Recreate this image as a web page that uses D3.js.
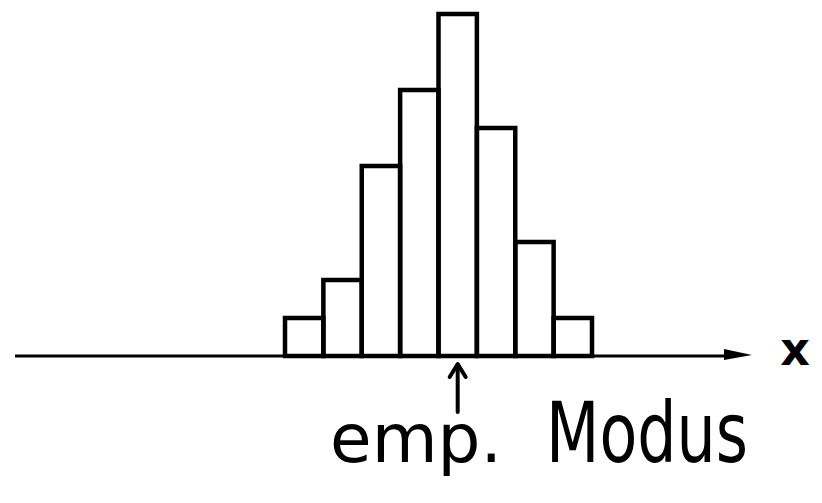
<!DOCTYPE html>
<html>
<head>
<meta charset="utf-8">
<script src="https://cdn.jsdelivr.net/npm/d3@7"></script>
<style>
  html, body { margin: 0; padding: 0; background: #fff; }
  svg { display: block; }
</style>
</head>
<body>
<script>
// Class frequencies of the histogram (8 equal-width classes)
const classes = [0, 1, 2, 3, 4, 5, 6, 7];
const counts  = [1, 2, 5, 7, 9, 6, 3, 1];
const axisLabel = "x";
const modeLabel = ["emp.", "Modus"];

const W = 822, H = 503;
const svg = d3.select("body").append("svg")
  .attr("width", W).attr("height", H);

// class index -> horizontal position (class boundaries at integers)
const x = d3.scaleLinear().domain([0, classes.length]).range([285, 592]);
// frequency -> vertical position
const y = d3.scaleLinear().domain([0, 9]).range([356, 14]);

const ink = "#000";

// x axis with arrow head
const axisLeft = 15, axisRight = 752;
svg.append("line")
  .attr("x1", axisLeft).attr("x2", axisRight - 20)
  .attr("y1", y(0)).attr("y2", y(0))
  .attr("stroke", ink).attr("stroke-width", 3);
svg.append("path")
  .attr("d", `M${axisRight},${y(0) - 1} L${axisRight - 28},${y(0) - 7} L${axisRight - 28},${y(0) + 4} Z`)
  .attr("fill", ink);
svg.append("text")
  .attr("x", 795).attr("y", 365)
  .attr("text-anchor", "middle")
  .attr("font-family", "DejaVu Sans, sans-serif")
  .attr("font-size", 46)
  .attr("font-weight", "bold")
  .attr("fill", ink)
  .text(axisLabel);

// histogram bars
svg.append("g")
  .selectAll("rect")
  .data(classes)
  .join("rect")
  .attr("x", d => x(d))
  .attr("y", d => y(counts[d]))
  .attr("width", d => x(d + 1) - x(d))
  .attr("height", d => y(0) - y(counts[d]))
  .attr("fill", "none")
  .attr("stroke", ink)
  .attr("stroke-width", 4.5);

// empirical mode: midpoint of the most frequent class
const modeIdx = d3.maxIndex(counts);
const mx = x(modeIdx + 0.5);
const arrow = svg.append("g")
  .attr("stroke", ink).attr("stroke-width", 4)
  .attr("fill", "none").attr("stroke-linecap", "round");
arrow.append("line")
  .attr("x1", mx).attr("x2", mx)
  .attr("y1", 365).attr("y2", 412);
arrow.append("path")
  .attr("d", `M${mx - 8},${377} L${mx},${364} L${mx + 8},${377}`)
  .attr("stroke-linejoin", "round");

const label = svg.append("g")
  .attr("font-family", "DejaVu Sans, sans-serif")
  .attr("fill", ink);
label.append("text")
  .attr("x", 330).attr("y", 462)
  .attr("font-size", 68)
  .attr("textLength", 172)
  .attr("lengthAdjust", "spacingAndGlyphs")
  .text(modeLabel[0]);
label.append("text")
  .attr("x", 546).attr("y", 462)
  .attr("font-size", 84)
  .attr("textLength", 202)
  .attr("lengthAdjust", "spacingAndGlyphs")
  .text(modeLabel[1]);
</script>
</body>
</html>
